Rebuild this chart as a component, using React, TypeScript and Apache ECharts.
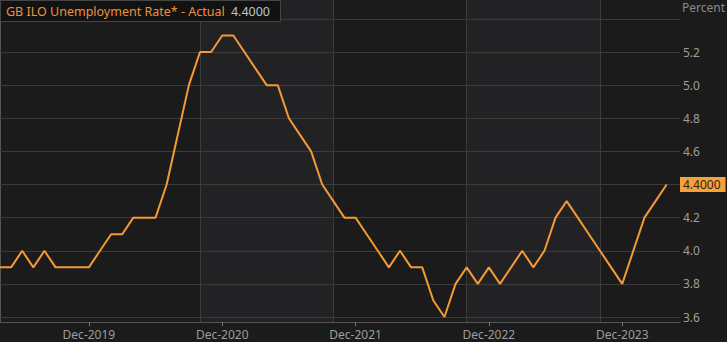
import React, { useEffect, useRef } from "react";
import * as echarts from "echarts";

// Monthly values starting Apr-2019 (index 0)
const startYear = 2019;
const startMonth = 3; // April (0-based)
const rate = [
  3.9, 3.9, 4.0, 3.9, 4.0, 3.9, 3.9, 3.9, 3.9,
  4.0, 4.1, 4.1, 4.2, 4.2, 4.2, 4.4, 4.7, 5.0, 5.2, 5.2, 5.3,
  5.3, 5.2, 5.1, 5.0, 5.0, 4.8, 4.7, 4.6, 4.4, 4.3, 4.2, 4.2,
  4.1, 4.0, 3.9, 4.0, 3.9, 3.9, 3.7, 3.6, 3.8, 3.9, 3.8, 3.9,
  3.8, 3.9, 4.0, 3.9, 4.0, 4.2, 4.3, 4.2, 4.1, 4.0, 3.9, 3.8,
  4.0, 4.2, 4.3, 4.4,
];
const xTickMonths = [8, 20, 32, 44, 56];
const xTickLabels = ["Dec-2019", "Dec-2020", "Dec-2021", "Dec-2022", "Dec-2023"];
// 4.4 is covered by the latest-value tag in the reference
const yLabelValues = [3.6, 3.8, 4.0, 4.2, 4.6, 4.8, 5.0, 5.2];
const yGridValues = [3.6, 3.8, 4.0, 4.2, 4.4, 4.6, 4.8, 5.0, 5.2, 5.4];
const bandEdges = [18, 30, 42, 54];
const shadedBands = [
  [18, 30],
  [42, 54],
];
const seriesName = "GB ILO Unemployment Rate* - Actual";
const yUnit = "Percent";

const FONT = "Noto Sans";

export default function App() {
  const ref = useRef<HTMLDivElement>(null);
  useEffect(() => {
    if (!ref.current) return;
    const chart = echarts.init(ref.current, null, { renderer: "svg" });
    const last = rate[rate.length - 1];
    const pts = rate.map((v, i) => [i, v]);
    chart.setOption({
      animation: false,
      backgroundColor: "#1b1b1b",
      textStyle: { fontFamily: FONT },
      title: [
        {
          text: `{a|${seriesName}}  {b|${last.toFixed(4)}}`,
          left: 0,
          top: 0,
          padding: [3, 11, 3, 6],
          backgroundColor: "#121212",
          borderColor: "#454545",
          borderWidth: 1,
          z: 20,
          textStyle: {
            fontWeight: "normal",
            fontSize: 12,
            lineHeight: 16,
            rich: {
              a: { color: "#f0913a", fontSize: 12.5, fontWeight: "normal", fontFamily: FONT, lineHeight: 16 },
              b: { color: "#b9c3cf", fontSize: 12.5, fontWeight: "normal", fontFamily: FONT, lineHeight: 16 },
            },
          },
        },
        {
          text: yUnit,
          left: 682,
          top: 1,
          padding: 0,
          textStyle: { color: "#8a8a8a", fontSize: 12, fontWeight: "normal", fontFamily: FONT },
        },
      ],
      grid: { left: 0, right: 47, top: 0, bottom: 20 },
      xAxis: {
        type: "value",
        min: 0,
        max: 61.2,
        splitLine: { show: false },
        axisLine: { show: true, lineStyle: { color: "#555" } },
        axisTick: {
          show: true,
          customValues: xTickMonths,
          length: 4,
          lineStyle: { color: "#777" },
        },
        axisLabel: {
          customValues: xTickMonths,
          formatter: (v: number) => {
            const i = xTickMonths.indexOf(Math.round(v));
            if (i >= 0) return xTickLabels[i];
            const m = startMonth + Math.round(v);
            return String(startYear + Math.floor(m / 12));
          },
          color: "#9d9d9d",
          fontSize: 12,
          margin: 6,
        },
      },
      yAxis: {
        type: "value",
        position: "right",
        min: 3.57,
        max: 5.514,
        splitLine: { show: false },
        axisLine: { show: true, lineStyle: { color: "#555" } },
        axisTick: { show: false },
        axisLabel: {
          customValues: yLabelValues,
          formatter: (v: number) => v.toFixed(1),
          color: "#9d9d9d",
          fontSize: 12,
          margin: 3,
        },
      },
      series: [
        {
          type: "line",
          data: pts,
          showSymbol: false,
          silent: true,
          lineStyle: { opacity: 0, width: 0 },
          z: 1,
          markArea: {
            silent: true,
            z: 1,
            itemStyle: { color: "#222124" },
            data: shadedBands.map((b) => [{ xAxis: b[0] }, { xAxis: b[1] }]),
          },
          markLine: {
            silent: true,
            z: 2,
            symbol: ["none", "none"],
            label: { show: false },
            lineStyle: { color: "#3b3b3b", type: "solid", width: 1 },
            data: [
              ...yGridValues.map((v) => ({ yAxis: v })),
              ...bandEdges.map((v) => ({ xAxis: v })),
            ],
          },
        },
        {
          type: "line",
          name: seriesName,
          data: pts,
          showSymbol: false,
          lineStyle: { color: "#f39a36", width: 2 },
          z: 10,
          markLine: {
            silent: true,
            symbol: ["none", "none"],
            lineStyle: { color: "rgba(0,0,0,0)", width: 0 },
            label: {
              show: true,
              position: "end",
              formatter: last.toFixed(4),
              backgroundColor: "#f7a13c",
              color: "#2e2418",
              padding: [2, 5, 1, 3],
              fontSize: 12,
              distance: 0,
            },
            data: [{ yAxis: last }],
          },
        },
      ],
    });
    return () => chart.dispose();
  }, []);
  return (
    <div
      ref={ref}
      style={{ position: "fixed", left: 0, top: 0, width: 727, height: 342 }}
    />
  );
}
